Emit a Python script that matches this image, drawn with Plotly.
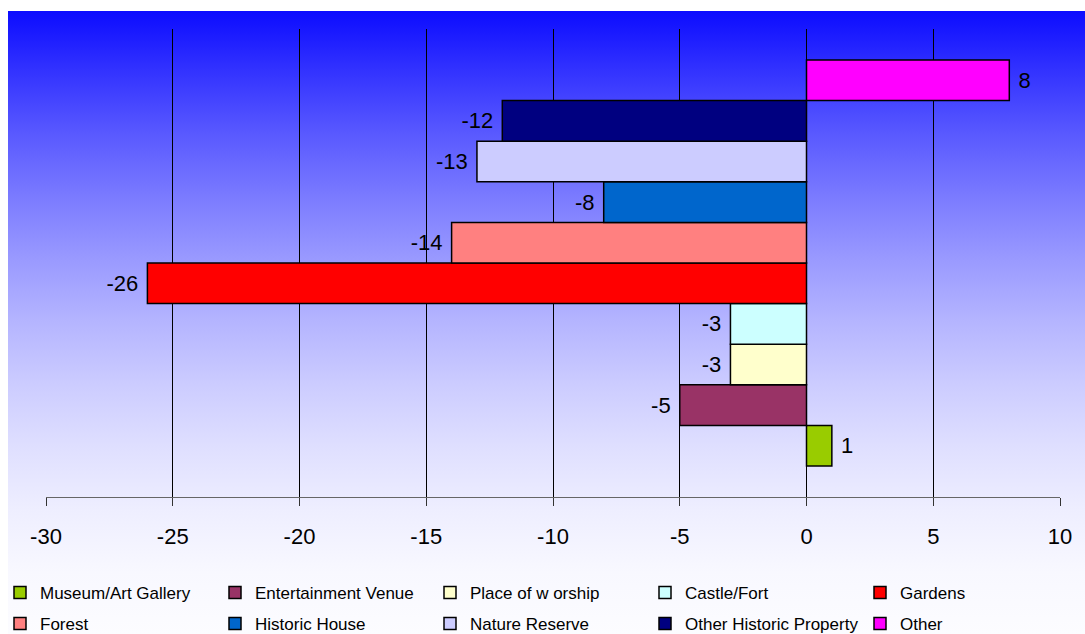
import base64
import plotly.graph_objects as go

# ---- data ----
series_names = ["Museum/Art Gallery", "Entertainment Venue", "Place of w orship", "Castle/Fort", "Gardens",
                "Forest", "Historic House", "Nature Reserve", "Other Historic Property", "Other"]
series_values = [1, -5, -3, -3, -26, -14, -8, -13, -12, 8]
series_colors = ["#99CC00", "#993366", "#FFFFCC", "#CCFFFF", "#FF0000",
                 "#FF8080", "#0066CC", "#CCCCFF", "#000080", "#FF00FF"]
category = ["Change"]
x_ticks = [-30, -25, -20, -15, -10, -5, 0, 5, 10]

W, H = 1085, 634
ML, MR, MT, MB = 46, 25, 29, 137
FONT = "Liberation Sans, Arial"

fig = go.Figure()
legend_ids = ["legend"] + [f"legend{k}" for k in range(2, 11)]
for i, (name, val, col) in enumerate(zip(series_names, series_values, series_colors)):
    label = f" {val}" if val > 0 else f"{val} "
    fig.add_trace(go.Bar(
        y=category, x=[val], name=name, orientation="h",
        marker=dict(color=col, line=dict(color="black", width=1.5)),
        text=[label], textposition="outside", constraintext="none",
        textfont=dict(size=22, color="black", family=FONT),
        cliponaxis=False,
        legend=legend_ids[i],
    ))

# gradient background as svg image
stops = ""
for k in range(11):
    t = k / 10
    v = 1 - (1 - t) ** 1.75
    c = int(round(12 + (252 - 12) * v))
    stops += f"<stop offset='{t}' stop-color='rgb({c},{c},255)'/>"
svg = ("<svg xmlns='http://www.w3.org/2000/svg' width='100' height='100' preserveAspectRatio='none'>"
       "<defs><linearGradient id='g' x1='0' y1='0' x2='0' y2='1'>" + stops +
       "</linearGradient></defs><rect width='100' height='100' fill='url(#g)'/></svg>")
src = "data:image/svg+xml;base64," + base64.b64encode(svg.encode()).decode()

pw = W - ML - MR
ph = H - MT - MB
bg_left, bg_top = 8, 11
fig.add_layout_image(dict(
    source=src, xref="paper", yref="paper",
    x=(bg_left - ML) / pw, y=(H - MB - bg_top) / ph,
    sizex=(W - bg_left) / pw, sizey=(H - bg_top) / ph,
    xanchor="left", yanchor="top", sizing="stretch", layer="below",
))

legend_common = dict(
    orientation="h", xref="container", yref="container", xanchor="left", yanchor="middle",
    bgcolor="rgba(0,0,0,0)", font=dict(size=17, color="black", family=FONT),
    itemclick=False, itemdoubleclick=False,
)
row_y = [593, 624]
col_step = 215
legend_layouts = {}
for i, lid in enumerate(legend_ids):
    r, c = divmod(i, 5)
    legend_layouts[lid] = dict(x=(col_step * c) / W, y=(H - row_y[r]) / H, **legend_common)

fig.update_layout(
    width=W, height=H,
    margin=dict(l=ML, r=MR, t=MT, b=MB),
    paper_bgcolor="white", plot_bgcolor="rgba(0,0,0,0)",
    barmode="group", bargap=0.1325, bargroupgap=0,
    showlegend=True,
    font=dict(family=FONT, color="black"),
    xaxis=dict(
        range=[-30, 10], tickvals=x_ticks, ticktext=[str(v) for v in x_ticks],
        showgrid=True, gridcolor="black", gridwidth=1,
        zeroline=False, showline=True, linecolor="#666666", linewidth=1,
        ticks="outside", ticklen=8, tickcolor="#333333", tickwidth=1,
        tickfont=dict(size=22, color="black"), ticklabelstandoff=12,
    ),
    yaxis=dict(
        type="category", range=[-0.5, 0.5], showticklabels=False,
        showgrid=False, zeroline=False, showline=False, ticks="",
    ),
    **legend_layouts,
)

fig.write_html("out.html")
